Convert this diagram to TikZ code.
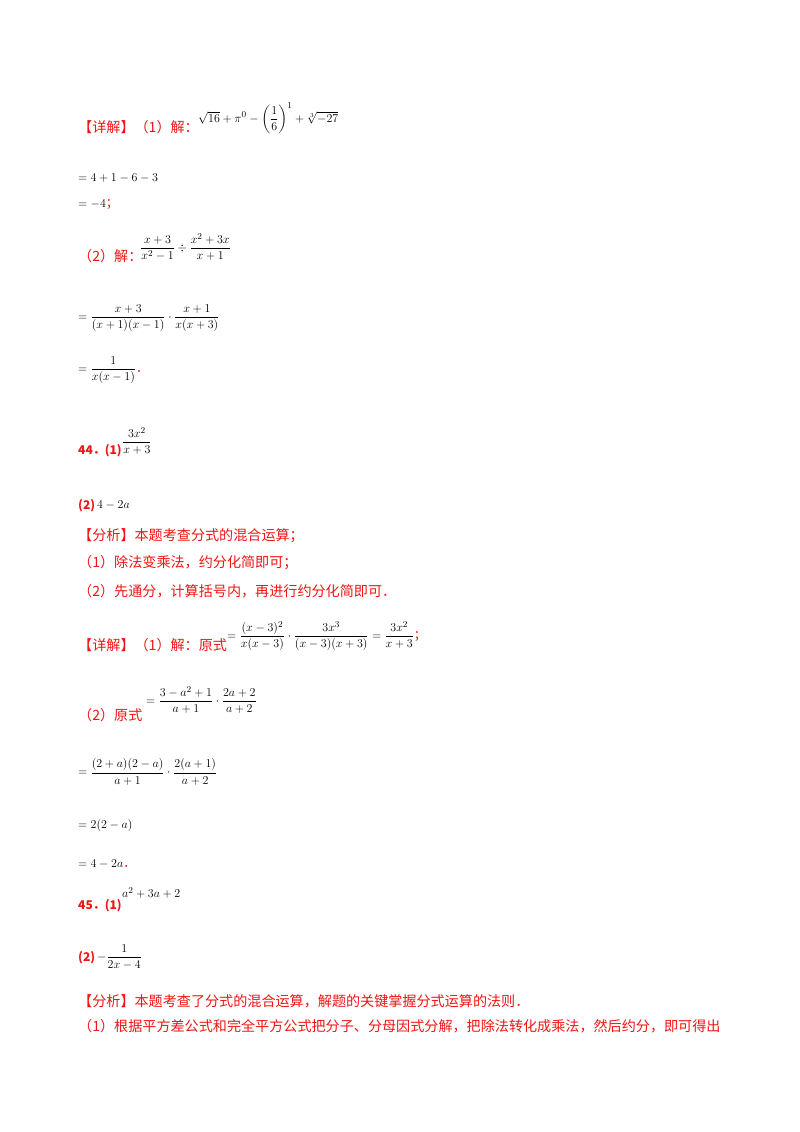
\documentclass[tikz,border=0pt]{standalone}
\usepackage{amsmath}
\usepackage{fontspec}
\newfontfamily\cjk{Noto Sans CJK SC}
\definecolor{rd}{RGB}{240,20,20}
\begin{document}
\begin{tikzpicture}[x=1pt,y=-1pt,
  zh/.style={anchor=west,inner sep=0pt,text=rd,font=\cjk\fontsize{14.1}{16}\selectfont},
  num/.style={anchor=west,inner sep=0pt,text=rd,font=\cjk\bfseries\fontsize{12}{14}\selectfont},
  mt/.style={anchor=west,inner sep=0pt,font=\fontsize{12.5}{15}\selectfont}]
\useasboundingbox (0,0) rectangle (800,1132);
\node[zh] (a1) at (78,127) {【详解】（1）解：};
\node[mt] (m1) at (198,118) {$\sqrt{16}+\pi^0-\left(\dfrac16\right)^{1}+\sqrt[3]{-27}$};
\node[mt] (m2) at (78,178) {$=4+1-6-3$};
\node[mt] (m3) at (78,205) {$=-4$\textcolor{rd}{\cjk ；}};
\node[zh] (a2) at (78,256) {（2）解：};
\node[mt] (m4) at (140,247) {$\dfrac{x+3}{x^2-1}\div\dfrac{x^2+3x}{x+1}$};
\node[mt] (m5) at (78,318) {$=\dfrac{x+3}{(x+1)(x-1)}\cdot\dfrac{x+1}{x(x+3)}$};
\node[mt] (m6) at (78,370) {$=\dfrac{1}{x(x-1)}$\textcolor{rd}{\cjk ．}};
\node[num] (b1) at (78,451) {44．(1)};
\node[mt] (m7) at (122,441) {$\dfrac{3x^2}{x+3}$};
\node[num] (b2) at (78,506) {(2)};
\node[mt] (m8) at (97,505) {$4-2a$};
\node[zh] (c1) at (78,536) {【分析】本题考查分式的混合运算；};
\node[zh] (c2) at (78,563) {（1）除法变乘法，约分化简即可；};
\node[zh] (c3) at (78,591) {（2）先通分，计算括号内，再进行约分化简即可．};
\node[zh] (d1) at (78,645) {【详解】（1）解：原式};
\node[mt] (m9) at (227,636) {$=\dfrac{(x-3)^2}{x(x-3)}\cdot\dfrac{3x^3}{(x-3)(x+3)}=\dfrac{3x^2}{x+3}$\textcolor{rd}{\cjk ；}};
\node[zh] (d2) at (78,715) {（2）原式};
\node[mt] (m10) at (146,700) {$=\dfrac{3-a^2+1}{a+1}\cdot\dfrac{2a+2}{a+2}$};
\node[mt] (m11) at (78,772) {$=\dfrac{(2+a)(2-a)}{a+1}\cdot\dfrac{2(a+1)}{a+2}$};
\node[mt] (m12) at (78,825) {$=2(2-a)$};
\node[mt] (m13) at (78,864) {$=4-2a$\textcolor{rd}{\cjk ．}};
\node[num] (e1) at (78,906) {45．(1)};
\node[mt] (m14) at (122,893) {$a^2+3a+2$};
\node[num] (e2) at (78,958) {(2)};
\node[mt] (m15) at (97,957) {$-\dfrac{1}{2x-4}$};
\node[zh] (f1) at (78,1001) {【分析】本题考查了分式的混合运算，解题的关键掌握分式运算的法则．};
\node[zh] (f2) at (78,1026) {（1）根据平方差公式和完全平方公式把分子、分母因式分解，把除法转化成乘法，然后约分，即可得出};
\end{tikzpicture}
\end{document}
